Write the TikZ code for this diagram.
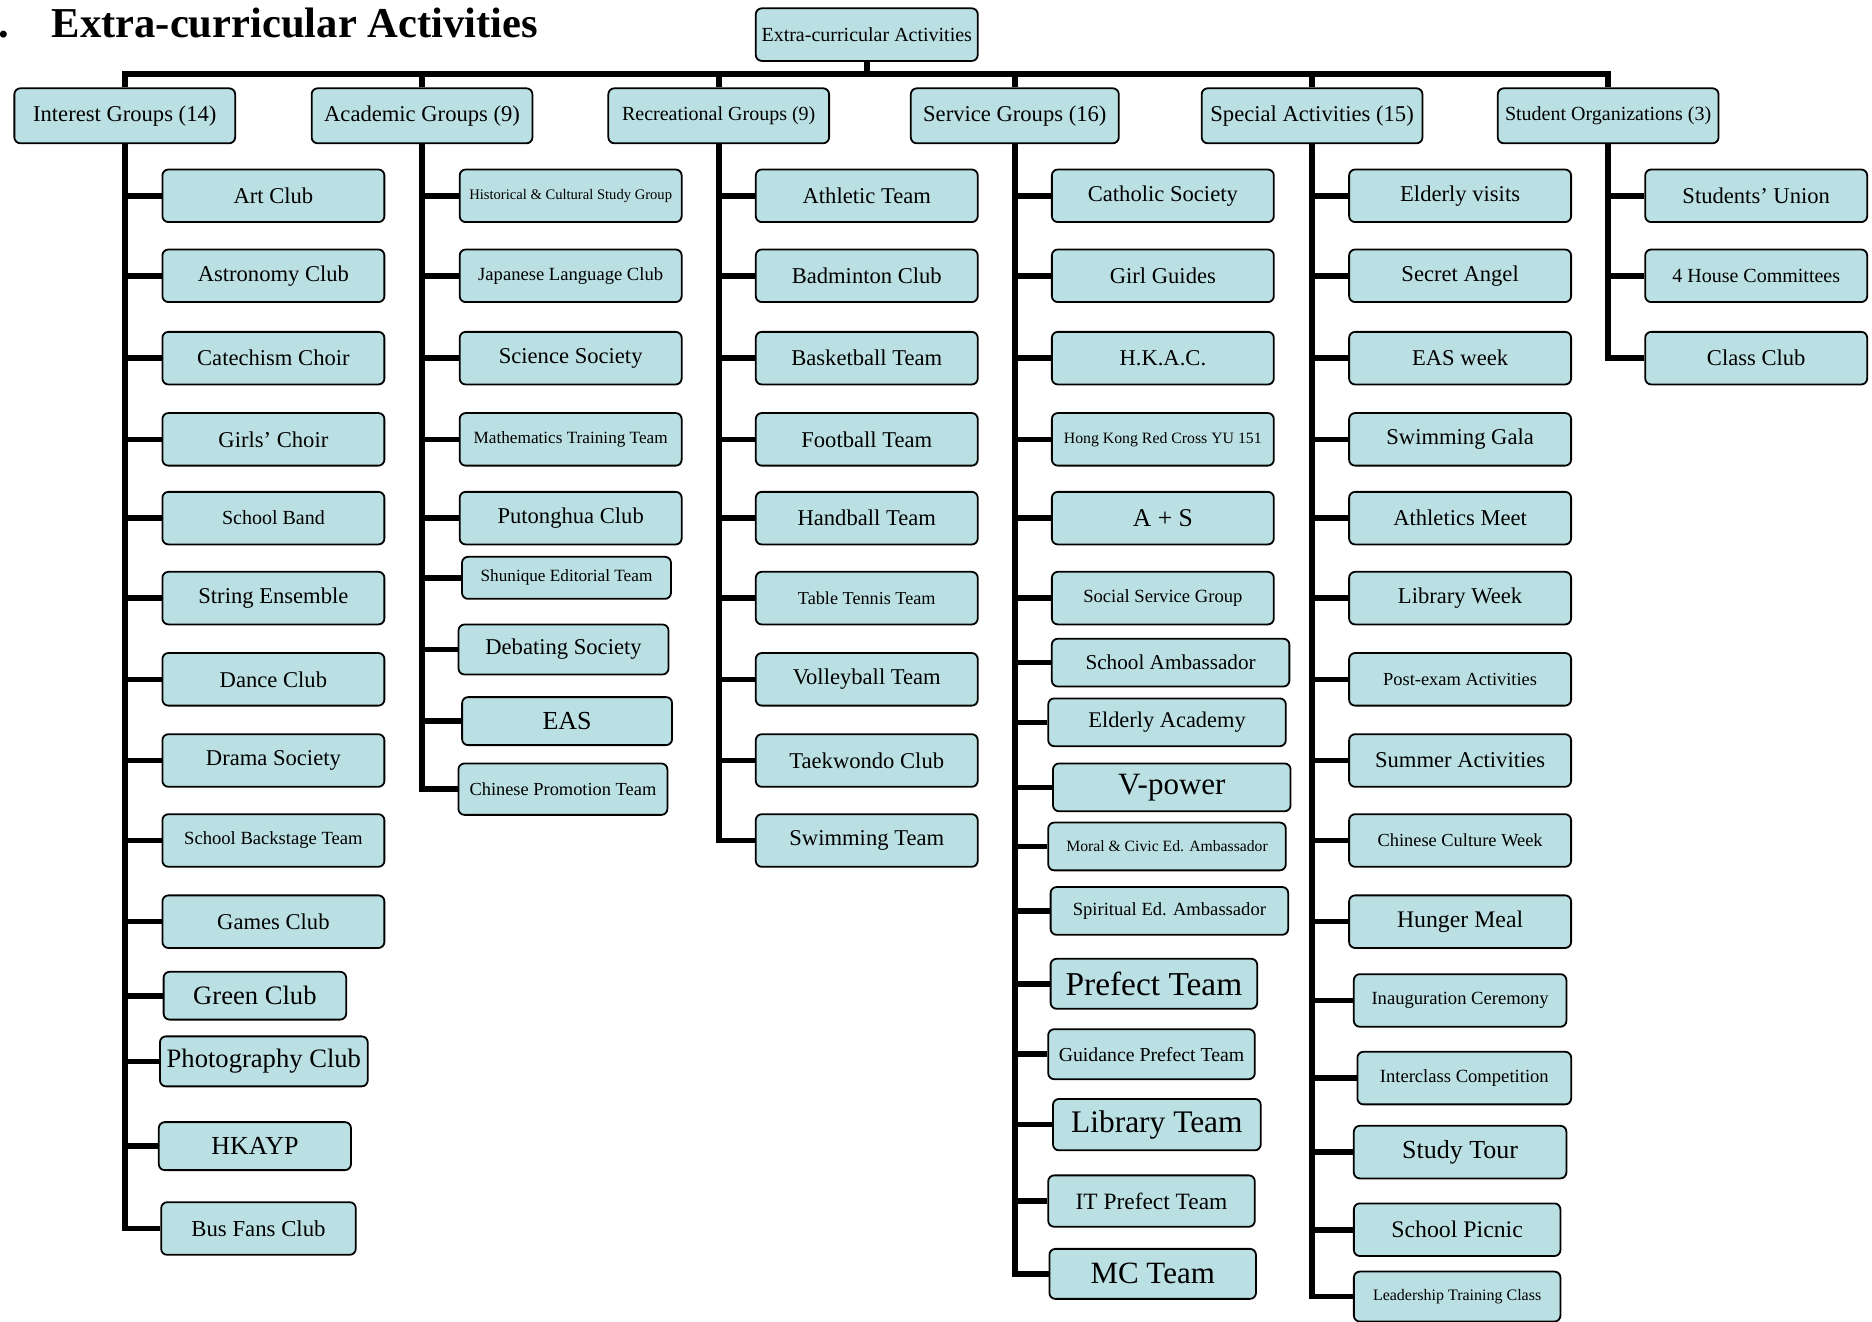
\documentclass[tikz,border=0pt]{standalone}
\usepackage{fontspec}
\setmainfont{Liberation Serif}

\newcommand{\fsz}[1]{\fontsize{#1}{#1}\selectfont}
\definecolor{boxblue}{RGB}{187,224,227}

\begin{document}
\begin{tikzpicture}[x=0.597pt, y=-0.597pt,
  box/.style={draw=black, line width=0.9pt, fill=boxblue, rounded corners=3pt, inner sep=0pt},
  leaf/.style={box, minimum width=111pt, minimum height=26.3pt, font=\fsz{11.3}},
  group/.style={box, minimum width=110.4pt, minimum height=27.5pt, font=\fsz{11.3}},
  bar/.style={black, line width=2.8pt}]
\useasboundingbox (0,0) rectangle (1568,1107);

%title
\node[anchor=base west, inner sep=0pt, font=\fsz{21.3}\bfseries] (dot) at (-2,31) {.};
\node[anchor=base west, inner sep=0pt, font=\fsz{21.3}\bfseries] (title) at (43,31) {Extra-curricular Activities};

%root
\node[box, minimum width=111pt, minimum height=26.3pt, font=\fsz{10}] (eca) at (726,29) {Extra-curricular Activities};
\coordinate (bus) at (726,62);

%groups
\node[group] (ig) at (104.5,97) {Interest Groups (14)};
\node[group] (ag) at (353.5,97) {Academic Groups (9)};
\node[group, font=\fsz{10}] (rg) at (602,97) {Recreational Groups (9)};
\node[group, minimum width=104pt] (sg) at (850,97) {Service Groups (16)};
\node[group] (sa) at (1099,97) {Special Activities (15)};
\node[group, font=\fsz{10}] (so) at (1347,97) {Student Organizations (3)};

%interest groups
\node[leaf] (ig1) at (229,164) {Art Club};
\node[leaf] (ig2) at (229,231) {Astronomy Club};
\node[leaf] (ig3) at (229,300) {Catechism Choir};
\node[leaf] (ig4) at (229,368) {Girls’ Choir};
\node[leaf, font=\fsz{10}] (ig5) at (229,434) {School Band};
\node[leaf] (ig6) at (229,501) {String Ensemble};
\node[leaf] (ig7) at (229,569) {Dance Club};
\node[leaf] (ig8) at (229,637) {Drama Society};
\node[leaf, font=\fsz{9.3}] (ig9) at (229,704) {School Backstage Team};
\node[leaf] (ig10) at (229,772) {Games Club};
\node[leaf, minimum width=91.3pt, minimum height=23.9pt, font=\fsz{13.3}] (ig11) at (213.5,834) {Green Club};
\node[leaf, minimum width=103.9pt, minimum height=25pt, font=\fsz{13.3}] (ig12) at (221,889) {Photography Club};
\node[leaf, minimum width=96.1pt, minimum height=24pt, font=\fsz{13}] (ig13) at (213.5,960) {HKAYP};
\node[leaf, minimum width=97.3pt, font=\fsz{11.4}] (ig14) at (216.5,1029) {Bus Fans Club};

%academic groups
\node[leaf, font=\fsz{7.3}] (ag1) at (478,164) {Historical \& Cultural Study Group};
\node[leaf, font=\fsz{9.3}] (ag2) at (478,231) {Japanese Language Club};
\node[leaf] (ag3) at (478,300) {Science Society};
\node[leaf, font=\fsz{8.6}] (ag4) at (478,368) {Mathematics Training Team};
\node[leaf] (ag5) at (478,434) {Putonghua Club};
\node[leaf, minimum width=104.5pt, minimum height=21pt, font=\fsz{8.6}] (ag6) at (474.5,484) {Shunique Editorial Team};
\node[leaf, minimum width=105pt, minimum height=25pt] (ag7) at (472,544) {Debating Society};
\node[leaf, minimum width=105pt, minimum height=24pt, font=\fsz{13}] (ag8) at (475,604) {EAS};
\node[leaf, minimum width=104.5pt, minimum height=25.7pt, font=\fsz{9.2}] (ag9) at (471.5,661) {Chinese Promotion Team};

%recreational groups
\node[leaf] (rg1) at (726,164) {Athletic Team};
\node[leaf] (rg2) at (726,231) {Badminton Club};
\node[leaf] (rg3) at (726,300) {Basketball Team};
\node[leaf] (rg4) at (726,368) {Football Team};
\node[leaf] (rg5) at (726,434) {Handball Team};
\node[leaf, font=\fsz{9.1}] (rg6) at (726,501) {Table Tennis Team};
\node[leaf] (rg7) at (726,569) {Volleyball Team};
\node[leaf] (rg8) at (726,637) {Taekwondo Club};
\node[leaf] (rg9) at (726,704) {Swimming Team};

%service groups
\node[leaf] (sg1) at (974,164) {Catholic Society};
\node[leaf] (sg2) at (974,231) {Girl Guides};
\node[leaf] (sg3) at (974,300) {H.K.A.C.};
\node[leaf, font=\fsz{7.9}] (sg4) at (974,368) {Hong Kong Red Cross YU 151};
\node[leaf, font=\fsz{12.8}] (sg5) at (974,434) {A + S};
\node[leaf, font=\fsz{9.3}] (sg6) at (974,501) {Social Service Group};
\node[leaf, minimum width=118.8pt, minimum height=23.9pt, font=\fsz{10.6}] (sg7) at (980.5,555) {School Ambassador};
\node[leaf, minimum width=118.8pt, minimum height=23.9pt, font=\fsz{11.2}] (sg8) at (977.5,605) {Elderly Academy};
\node[leaf, minimum width=118.8pt, minimum height=23.9pt, font=\fsz{15.5}] (sg9) at (981.5,659.5) {V-power};
\node[leaf, minimum width=118.8pt, minimum height=23.9pt, font=\fsz{7.85}] (sg10) at (977.5,709) {Moral \& Civic Ed. Ambassador};
\node[leaf, minimum width=118.8pt, minimum height=23.9pt, font=\fsz{9.3}] (sg11) at (979.5,763) {Spiritual Ed. Ambassador};
\node[leaf, minimum width=103.3pt, minimum height=25pt, font=\fsz{16.7}] (sg12) at (966.5,824) {Prefect Team};
\node[leaf, minimum width=103.3pt, minimum height=25pt, font=\fsz{9.9}] (sg13) at (964.5,883) {Guidance Prefect Team};
\node[leaf, minimum width=103.9pt, minimum height=25.7pt, font=\fsz{15.7}] (sg14) at (969,942) {Library Team};
\node[leaf, minimum width=103.3pt, minimum height=25.7pt, font=\fsz{11.7}] (sg15) at (964.5,1006) {IT Prefect Team};
\node[leaf, minimum width=103.3pt, minimum height=25pt, font=\fsz{15.5}] (sg16) at (965.5,1067) {MC Team};

%special activities
\node[leaf] (sa1) at (1223,164) {Elderly visits};
\node[leaf] (sa2) at (1223,231) {Secret Angel};
\node[leaf] (sa3) at (1223,300) {EAS week};
\node[leaf] (sa4) at (1223,368) {Swimming Gala};
\node[leaf] (sa5) at (1223,434) {Athletics Meet};
\node[leaf] (sa6) at (1223,501) {Library Week};
\node[leaf, font=\fsz{9.2}] (sa7) at (1223,569) {Post-exam Activities};
\node[leaf] (sa8) at (1223,637) {Summer Activities};
\node[leaf, font=\fsz{9.2}] (sa9) at (1223,704) {Chinese Culture Week};
\node[leaf, font=\fsz{11.9}] (sa10) at (1223,772) {Hunger Meal};
\node[leaf, minimum width=106.3pt, font=\fsz{9.3}] (sa11) at (1223,838) {Inauguration Ceremony};
\node[leaf, minimum width=106.9pt, font=\fsz{9.3}] (sa12) at (1226.5,903) {Interclass Competition};
\node[leaf, minimum width=106.3pt, font=\fsz{13}] (sa13) at (1223,965) {Study Tour};
\node[leaf, minimum width=103.3pt, font=\fsz{11.9}] (sa14) at (1220.5,1030) {School Picnic};
\node[leaf, minimum width=103.3pt, minimum height=25pt, font=\fsz{8}] (sa15) at (1220.5,1086) {Leadership Training Class};

%student organizations
\node[leaf] (so1) at (1471,164) {Students’ Union};
\node[leaf, font=\fsz{10}] (so2) at (1471,231) {4 House Committees};
\node[leaf] (so3) at (1471,300) {Class Club};

%bus
\draw[bar] (eca.south) -- (bus);
\draw[bar] (ig.north) |- (bus) -| (so.north);
\draw[bar] (ag.north) -- (ag.north |- bus);
\draw[bar] (rg.north) -- (rg.north |- bus);
\draw[bar] (sg.north) -- (sg.north |- bus);
\draw[bar] (sa.north) -- (sa.north |- bus);

%trunks
\draw[bar] (ig.south) |- (ig1.west) (ig.south) |- (ig2.west) (ig.south) |- (ig3.west)
  (ig.south) |- (ig4.west) (ig.south) |- (ig5.west) (ig.south) |- (ig6.west)
  (ig.south) |- (ig7.west) (ig.south) |- (ig8.west) (ig.south) |- (ig9.west)
  (ig.south) |- (ig10.west) (ig.south) |- (ig11.west) (ig.south) |- (ig12.west)
  (ig.south) |- (ig13.west) (ig.south) |- (ig14.west);
\draw[bar] (ag.south) |- (ag1.west) (ag.south) |- (ag2.west) (ag.south) |- (ag3.west)
  (ag.south) |- (ag4.west) (ag.south) |- (ag5.west) (ag.south) |- (ag6.west)
  (ag.south) |- (ag7.west) (ag.south) |- (ag8.west) (ag.south) |- (ag9.west);
\draw[bar] (rg.south) |- (rg1.west) (rg.south) |- (rg2.west) (rg.south) |- (rg3.west)
  (rg.south) |- (rg4.west) (rg.south) |- (rg5.west) (rg.south) |- (rg6.west)
  (rg.south) |- (rg7.west) (rg.south) |- (rg8.west) (rg.south) |- (rg9.west);
\draw[bar] (sg.south) |- (sg1.west) (sg.south) |- (sg2.west) (sg.south) |- (sg3.west)
  (sg.south) |- (sg4.west) (sg.south) |- (sg5.west) (sg.south) |- (sg6.west)
  (sg.south) |- (sg7.west) (sg.south) |- (sg8.west) (sg.south) |- (sg9.west)
  (sg.south) |- (sg10.west) (sg.south) |- (sg11.west) (sg.south) |- (sg12.west)
  (sg.south) |- (sg13.west) (sg.south) |- (sg14.west) (sg.south) |- (sg15.west)
  (sg.south) |- (sg16.west);
\draw[bar] (sa.south) |- (sa1.west) (sa.south) |- (sa2.west) (sa.south) |- (sa3.west)
  (sa.south) |- (sa4.west) (sa.south) |- (sa5.west) (sa.south) |- (sa6.west)
  (sa.south) |- (sa7.west) (sa.south) |- (sa8.west) (sa.south) |- (sa9.west)
  (sa.south) |- (sa10.west) (sa.south) |- (sa11.west) (sa.south) |- (sa12.west)
  (sa.south) |- (sa13.west) (sa.south) |- (sa14.west) (sa.south) |- (sa15.west);
\draw[bar] (so.south) |- (so1.west) (so.south) |- (so2.west) (so.south) |- (so3.west);

\end{tikzpicture}
\end{document}
